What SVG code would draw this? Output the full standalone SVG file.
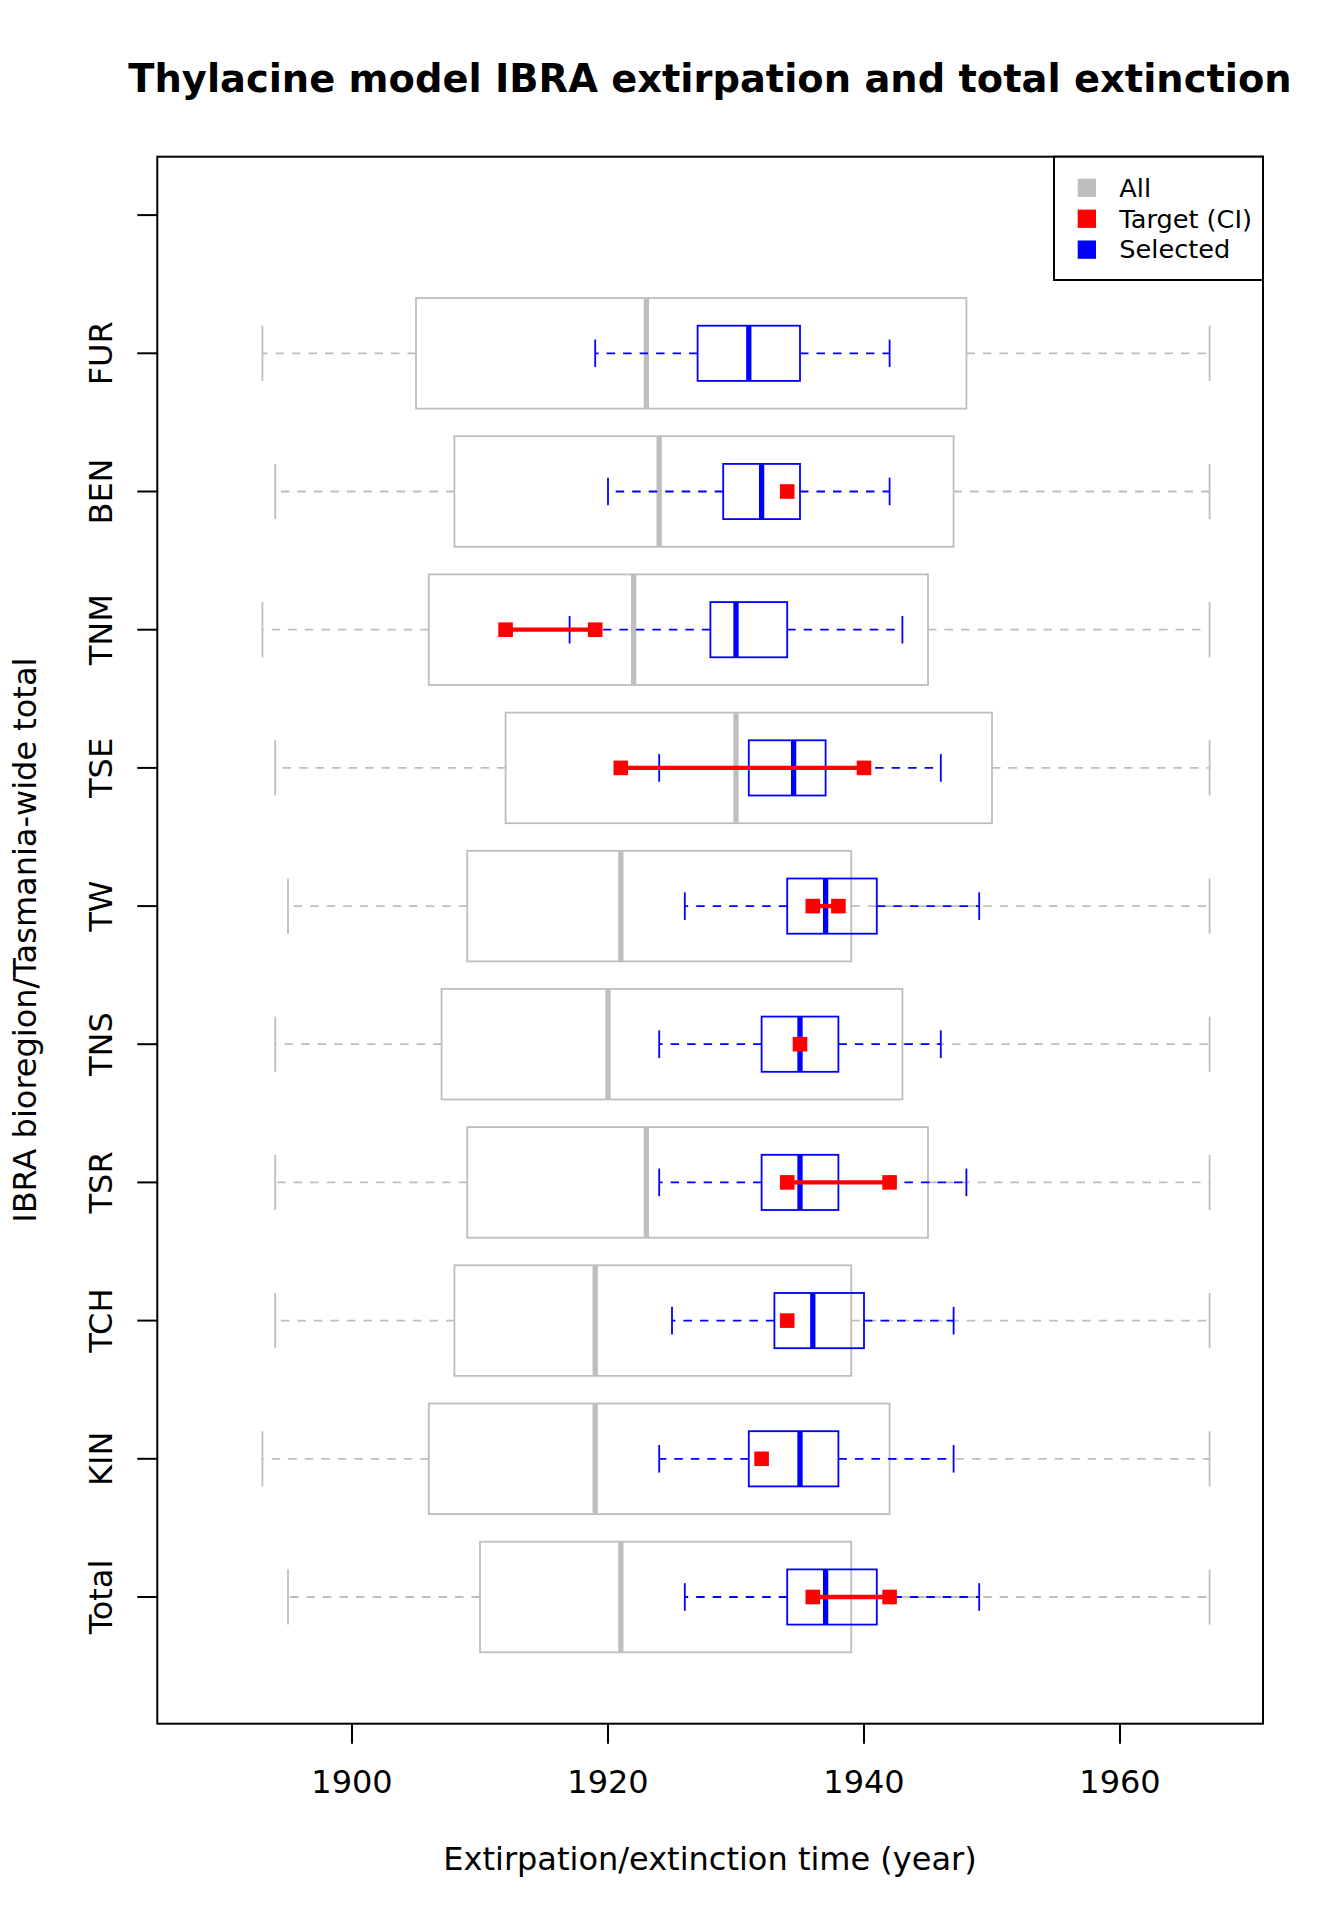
<svg xmlns="http://www.w3.org/2000/svg" width="1344" height="1920" viewBox="0 0 1344 1920">
<style>
text{font-family:"DejaVu Sans","Liberation Sans",sans-serif;fill:#000}
.title{font-size:38.4px;font-weight:bold}
.lab{font-size:32px}
.leg{font-size:25.6px}
.frame{fill:none;stroke:#000;stroke-width:2}
.tick{stroke:#000;stroke-width:2}
.g-wh{stroke:#BEBEBE;stroke-width:1.8;stroke-dasharray:8.5 8;fill:none}
.g-cap{stroke:#BEBEBE;stroke-width:1.8}
.g-box{fill:none;stroke:#BEBEBE;stroke-width:1.8}
.g-med{stroke:#BEBEBE;stroke-width:5.3}
.b-wh{stroke:#0000FF;stroke-width:1.8;stroke-dasharray:8.5 8;fill:none}
.b-cap{stroke:#0000FF;stroke-width:1.8}
.b-box{fill:none;stroke:#0000FF;stroke-width:1.8}
.b-med{stroke:#0000FF;stroke-width:5.3}
.r-line{stroke:#FF0000;stroke-width:4.3}
.r-pt{fill:#FF0000}
</style>
<rect x="0" y="0" width="1344" height="1920" fill="#FFFFFF"/>
<text class="title" x="710" y="92" text-anchor="middle">Thylacine model IBRA extirpation and total extinction</text>

<!-- rows: X(yr)=352+12.8*(yr-1900) -->
<g id="row-FUR" transform="translate(0,353.3)">
<line class="g-wh" x1="416" y1="0" x2="262.4" y2="0"/><line class="g-wh" x1="966.4" y1="0" x2="1209.6" y2="0"/>
<line class="g-cap" x1="262.4" y1="-27.6" x2="262.4" y2="27.6"/><line class="g-cap" x1="1209.6" y1="-27.6" x2="1209.6" y2="27.6"/>
<rect class="g-box" x="416" y="-55.3" width="550.4" height="110.6"/><line class="g-med" x1="646.4" y1="-55.3" x2="646.4" y2="55.3"/>
<line class="b-wh" x1="697.6" y1="0" x2="595.2" y2="0"/><line class="b-wh" x1="800" y1="0" x2="889.6" y2="0"/>
<line class="b-cap" x1="595.2" y1="-13.8" x2="595.2" y2="13.8"/><line class="b-cap" x1="889.6" y1="-13.8" x2="889.6" y2="13.8"/>
<rect class="b-box" x="697.6" y="-27.6" width="102.4" height="55.2"/><line class="b-med" x1="748.8" y1="-27.6" x2="748.8" y2="27.6"/>
</g>
<g id="row-BEN" transform="translate(0,491.5)">
<line class="g-wh" x1="454.4" y1="0" x2="275.2" y2="0"/><line class="g-wh" x1="953.6" y1="0" x2="1209.6" y2="0"/>
<line class="g-cap" x1="275.2" y1="-27.6" x2="275.2" y2="27.6"/><line class="g-cap" x1="1209.6" y1="-27.6" x2="1209.6" y2="27.6"/>
<rect class="g-box" x="454.4" y="-55.3" width="499.2" height="110.6"/><line class="g-med" x1="659.2" y1="-55.3" x2="659.2" y2="55.3"/>
<line class="b-wh" x1="723.2" y1="0" x2="608" y2="0"/><line class="b-wh" x1="800" y1="0" x2="889.6" y2="0"/>
<line class="b-cap" x1="608" y1="-13.8" x2="608" y2="13.8"/><line class="b-cap" x1="889.6" y1="-13.8" x2="889.6" y2="13.8"/>
<rect class="b-box" x="723.2" y="-27.6" width="76.8" height="55.2"/><line class="b-med" x1="761.6" y1="-27.6" x2="761.6" y2="27.6"/>
<rect class="r-pt" x="779.9" y="-7.3" width="14.6" height="14.6"/>
</g>
<g id="row-TNM" transform="translate(0,629.7)">
<line class="g-wh" x1="428.8" y1="0" x2="262.4" y2="0"/><line class="g-wh" x1="928" y1="0" x2="1209.6" y2="0"/>
<line class="g-cap" x1="262.4" y1="-27.6" x2="262.4" y2="27.6"/><line class="g-cap" x1="1209.6" y1="-27.6" x2="1209.6" y2="27.6"/>
<rect class="g-box" x="428.8" y="-55.3" width="499.2" height="110.6"/><line class="g-med" x1="633.6" y1="-55.3" x2="633.6" y2="55.3"/>
<line class="b-wh" x1="710.4" y1="0" x2="569.6" y2="0"/><line class="b-wh" x1="787.2" y1="0" x2="902.4" y2="0"/>
<line class="b-cap" x1="569.6" y1="-13.8" x2="569.6" y2="13.8"/><line class="b-cap" x1="902.4" y1="-13.8" x2="902.4" y2="13.8"/>
<rect class="b-box" x="710.4" y="-27.6" width="76.8" height="55.2"/><line class="b-med" x1="736" y1="-27.6" x2="736" y2="27.6"/>
<line class="r-line" x1="505.6" y1="0" x2="595.2" y2="0"/>
<rect class="r-pt" x="498.3" y="-7.3" width="14.6" height="14.6"/><rect class="r-pt" x="587.9" y="-7.3" width="14.6" height="14.6"/>
</g>
<g id="row-TSE" transform="translate(0,767.9)">
<line class="g-wh" x1="505.6" y1="0" x2="275.2" y2="0"/><line class="g-wh" x1="992" y1="0" x2="1209.6" y2="0"/>
<line class="g-cap" x1="275.2" y1="-27.6" x2="275.2" y2="27.6"/><line class="g-cap" x1="1209.6" y1="-27.6" x2="1209.6" y2="27.6"/>
<rect class="g-box" x="505.6" y="-55.3" width="486.4" height="110.6"/><line class="g-med" x1="736" y1="-55.3" x2="736" y2="55.3"/>
<line class="b-wh" x1="748.8" y1="0" x2="659.2" y2="0"/><line class="b-wh" x1="825.6" y1="0" x2="940.8" y2="0"/>
<line class="b-cap" x1="659.2" y1="-13.8" x2="659.2" y2="13.8"/><line class="b-cap" x1="940.8" y1="-13.8" x2="940.8" y2="13.8"/>
<rect class="b-box" x="748.8" y="-27.6" width="76.8" height="55.2"/><line class="b-med" x1="793.6" y1="-27.6" x2="793.6" y2="27.6"/>
<line class="r-line" x1="620.8" y1="0" x2="864" y2="0"/>
<rect class="r-pt" x="613.5" y="-7.3" width="14.6" height="14.6"/><rect class="r-pt" x="856.7" y="-7.3" width="14.6" height="14.6"/>
</g>
<g id="row-TW" transform="translate(0,906.1)">
<line class="g-wh" x1="467.2" y1="0" x2="288" y2="0"/><line class="g-wh" x1="851.2" y1="0" x2="1209.6" y2="0"/>
<line class="g-cap" x1="288" y1="-27.6" x2="288" y2="27.6"/><line class="g-cap" x1="1209.6" y1="-27.6" x2="1209.6" y2="27.6"/>
<rect class="g-box" x="467.2" y="-55.3" width="384" height="110.6"/><line class="g-med" x1="620.8" y1="-55.3" x2="620.8" y2="55.3"/>
<line class="b-wh" x1="787.2" y1="0" x2="684.8" y2="0"/><line class="b-wh" x1="876.8" y1="0" x2="979.2" y2="0"/>
<line class="b-cap" x1="684.8" y1="-13.8" x2="684.8" y2="13.8"/><line class="b-cap" x1="979.2" y1="-13.8" x2="979.2" y2="13.8"/>
<rect class="b-box" x="787.2" y="-27.6" width="89.6" height="55.2"/><line class="b-med" x1="825.6" y1="-27.6" x2="825.6" y2="27.6"/>
<line class="r-line" x1="812.8" y1="0" x2="838.4" y2="0"/>
<rect class="r-pt" x="805.5" y="-7.3" width="14.6" height="14.6"/><rect class="r-pt" x="831.1" y="-7.3" width="14.6" height="14.6"/>
</g>
<g id="row-TNS" transform="translate(0,1044.2)">
<line class="g-wh" x1="441.6" y1="0" x2="275.2" y2="0"/><line class="g-wh" x1="902.4" y1="0" x2="1209.6" y2="0"/>
<line class="g-cap" x1="275.2" y1="-27.6" x2="275.2" y2="27.6"/><line class="g-cap" x1="1209.6" y1="-27.6" x2="1209.6" y2="27.6"/>
<rect class="g-box" x="441.6" y="-55.3" width="460.8" height="110.6"/><line class="g-med" x1="608" y1="-55.3" x2="608" y2="55.3"/>
<line class="b-wh" x1="761.6" y1="0" x2="659.2" y2="0"/><line class="b-wh" x1="838.4" y1="0" x2="940.8" y2="0"/>
<line class="b-cap" x1="659.2" y1="-13.8" x2="659.2" y2="13.8"/><line class="b-cap" x1="940.8" y1="-13.8" x2="940.8" y2="13.8"/>
<rect class="b-box" x="761.6" y="-27.6" width="76.8" height="55.2"/><line class="b-med" x1="800" y1="-27.6" x2="800" y2="27.6"/>
<rect class="r-pt" x="792.7" y="-7.3" width="14.6" height="14.6"/>
</g>
<g id="row-TSR" transform="translate(0,1182.4)">
<line class="g-wh" x1="467.2" y1="0" x2="275.2" y2="0"/><line class="g-wh" x1="928" y1="0" x2="1209.6" y2="0"/>
<line class="g-cap" x1="275.2" y1="-27.6" x2="275.2" y2="27.6"/><line class="g-cap" x1="1209.6" y1="-27.6" x2="1209.6" y2="27.6"/>
<rect class="g-box" x="467.2" y="-55.3" width="460.8" height="110.6"/><line class="g-med" x1="646.4" y1="-55.3" x2="646.4" y2="55.3"/>
<line class="b-wh" x1="761.6" y1="0" x2="659.2" y2="0"/><line class="b-wh" x1="838.4" y1="0" x2="966.4" y2="0"/>
<line class="b-cap" x1="659.2" y1="-13.8" x2="659.2" y2="13.8"/><line class="b-cap" x1="966.4" y1="-13.8" x2="966.4" y2="13.8"/>
<rect class="b-box" x="761.6" y="-27.6" width="76.8" height="55.2"/><line class="b-med" x1="800" y1="-27.6" x2="800" y2="27.6"/>
<line class="r-line" x1="787.2" y1="0" x2="889.6" y2="0"/>
<rect class="r-pt" x="779.9" y="-7.3" width="14.6" height="14.6"/><rect class="r-pt" x="882.3" y="-7.3" width="14.6" height="14.6"/>
</g>
<g id="row-TCH" transform="translate(0,1320.6)">
<line class="g-wh" x1="454.4" y1="0" x2="275.2" y2="0"/><line class="g-wh" x1="851.2" y1="0" x2="1209.6" y2="0"/>
<line class="g-cap" x1="275.2" y1="-27.6" x2="275.2" y2="27.6"/><line class="g-cap" x1="1209.6" y1="-27.6" x2="1209.6" y2="27.6"/>
<rect class="g-box" x="454.4" y="-55.3" width="396.8" height="110.6"/><line class="g-med" x1="595.2" y1="-55.3" x2="595.2" y2="55.3"/>
<line class="b-wh" x1="774.4" y1="0" x2="672" y2="0"/><line class="b-wh" x1="864" y1="0" x2="953.6" y2="0"/>
<line class="b-cap" x1="672" y1="-13.8" x2="672" y2="13.8"/><line class="b-cap" x1="953.6" y1="-13.8" x2="953.6" y2="13.8"/>
<rect class="b-box" x="774.4" y="-27.6" width="89.6" height="55.2"/><line class="b-med" x1="812.8" y1="-27.6" x2="812.8" y2="27.6"/>
<rect class="r-pt" x="779.9" y="-7.3" width="14.6" height="14.6"/>
</g>
<g id="row-KIN" transform="translate(0,1458.8)">
<line class="g-wh" x1="428.8" y1="0" x2="262.4" y2="0"/><line class="g-wh" x1="889.6" y1="0" x2="1209.6" y2="0"/>
<line class="g-cap" x1="262.4" y1="-27.6" x2="262.4" y2="27.6"/><line class="g-cap" x1="1209.6" y1="-27.6" x2="1209.6" y2="27.6"/>
<rect class="g-box" x="428.8" y="-55.3" width="460.8" height="110.6"/><line class="g-med" x1="595.2" y1="-55.3" x2="595.2" y2="55.3"/>
<line class="b-wh" x1="748.8" y1="0" x2="659.2" y2="0"/><line class="b-wh" x1="838.4" y1="0" x2="953.6" y2="0"/>
<line class="b-cap" x1="659.2" y1="-13.8" x2="659.2" y2="13.8"/><line class="b-cap" x1="953.6" y1="-13.8" x2="953.6" y2="13.8"/>
<rect class="b-box" x="748.8" y="-27.6" width="89.6" height="55.2"/><line class="b-med" x1="800" y1="-27.6" x2="800" y2="27.6"/>
<rect class="r-pt" x="754.3" y="-7.3" width="14.6" height="14.6"/>
</g>
<g id="row-Total" transform="translate(0,1597)">
<line class="g-wh" x1="480" y1="0" x2="288" y2="0"/><line class="g-wh" x1="851.2" y1="0" x2="1209.6" y2="0"/>
<line class="g-cap" x1="288" y1="-27.6" x2="288" y2="27.6"/><line class="g-cap" x1="1209.6" y1="-27.6" x2="1209.6" y2="27.6"/>
<rect class="g-box" x="480" y="-55.3" width="371.2" height="110.6"/><line class="g-med" x1="620.8" y1="-55.3" x2="620.8" y2="55.3"/>
<line class="b-wh" x1="787.2" y1="0" x2="684.8" y2="0"/><line class="b-wh" x1="876.8" y1="0" x2="979.2" y2="0"/>
<line class="b-cap" x1="684.8" y1="-13.8" x2="684.8" y2="13.8"/><line class="b-cap" x1="979.2" y1="-13.8" x2="979.2" y2="13.8"/>
<rect class="b-box" x="787.2" y="-27.6" width="89.6" height="55.2"/><line class="b-med" x1="825.6" y1="-27.6" x2="825.6" y2="27.6"/>
<line class="r-line" x1="812.8" y1="0" x2="889.6" y2="0"/>
<rect class="r-pt" x="805.5" y="-7.3" width="14.6" height="14.6"/><rect class="r-pt" x="882.3" y="-7.3" width="14.6" height="14.6"/>
</g>

<g id="axes">
<rect class="frame" x="157.3" y="156.7" width="1105.7" height="1567"/>
<g id="x-axis">
<line class="tick" x1="352" y1="1723.7" x2="352" y2="1743.7"/>
<line class="tick" x1="608" y1="1723.7" x2="608" y2="1743.7"/>
<line class="tick" x1="864" y1="1723.7" x2="864" y2="1743.7"/>
<line class="tick" x1="1120" y1="1723.7" x2="1120" y2="1743.7"/>
<text class="lab" x="352" y="1793" text-anchor="middle">1900</text>
<text class="lab" x="608" y="1793" text-anchor="middle">1920</text>
<text class="lab" x="864" y="1793" text-anchor="middle">1940</text>
<text class="lab" x="1120" y="1793" text-anchor="middle">1960</text>
<text class="lab" x="710" y="1870" text-anchor="middle">Extirpation/extinction time (year)</text>
</g>
<g id="y-axis">
<line class="tick" x1="137.3" y1="1597" x2="157.3" y2="1597"/>
<line class="tick" x1="137.3" y1="1458.8" x2="157.3" y2="1458.8"/>
<line class="tick" x1="137.3" y1="1320.6" x2="157.3" y2="1320.6"/>
<line class="tick" x1="137.3" y1="1182.4" x2="157.3" y2="1182.4"/>
<line class="tick" x1="137.3" y1="1044.2" x2="157.3" y2="1044.2"/>
<line class="tick" x1="137.3" y1="906.1" x2="157.3" y2="906.1"/>
<line class="tick" x1="137.3" y1="767.9" x2="157.3" y2="767.9"/>
<line class="tick" x1="137.3" y1="629.7" x2="157.3" y2="629.7"/>
<line class="tick" x1="137.3" y1="491.5" x2="157.3" y2="491.5"/>
<line class="tick" x1="137.3" y1="353.3" x2="157.3" y2="353.3"/>
<line class="tick" x1="137.3" y1="215.1" x2="157.3" y2="215.1"/>
<text class="lab" transform="translate(112,1597) rotate(-90)" text-anchor="middle">Total</text>
<text class="lab" transform="translate(112,1458.8) rotate(-90)" text-anchor="middle">KIN</text>
<text class="lab" transform="translate(112,1320.6) rotate(-90)" text-anchor="middle">TCH</text>
<text class="lab" transform="translate(112,1182.4) rotate(-90)" text-anchor="middle">TSR</text>
<text class="lab" transform="translate(112,1044.2) rotate(-90)" text-anchor="middle">TNS</text>
<text class="lab" transform="translate(112,906.1) rotate(-90)" text-anchor="middle">TW</text>
<text class="lab" transform="translate(112,767.9) rotate(-90)" text-anchor="middle">TSE</text>
<text class="lab" transform="translate(112,629.7) rotate(-90)" text-anchor="middle">TNM</text>
<text class="lab" transform="translate(112,491.5) rotate(-90)" text-anchor="middle">BEN</text>
<text class="lab" transform="translate(112,353.3) rotate(-90)" text-anchor="middle">FUR</text>
<text class="lab" transform="translate(36,940.2) rotate(-90)" text-anchor="middle">IBRA bioregion/Tasmania-wide total</text>
</g>
</g>

<g id="legend">
<rect x="1054" y="156.7" width="209" height="123.3" fill="#FFFFFF" stroke="#000" stroke-width="2"/>
<rect x="1077.7" y="178.6" width="18.3" height="18.3" fill="#BEBEBE"/>
<rect x="1077.7" y="209.6" width="18.3" height="18.3" fill="#FF0000"/>
<rect x="1077.7" y="240.5" width="18.3" height="18.3" fill="#0000FF"/>
<text class="leg" x="1119.3" y="196.7">All</text>
<text class="leg" x="1119.3" y="227.6">Target (CI)</text>
<text class="leg" x="1119.3" y="258.4">Selected</text>
</g>
</svg>
